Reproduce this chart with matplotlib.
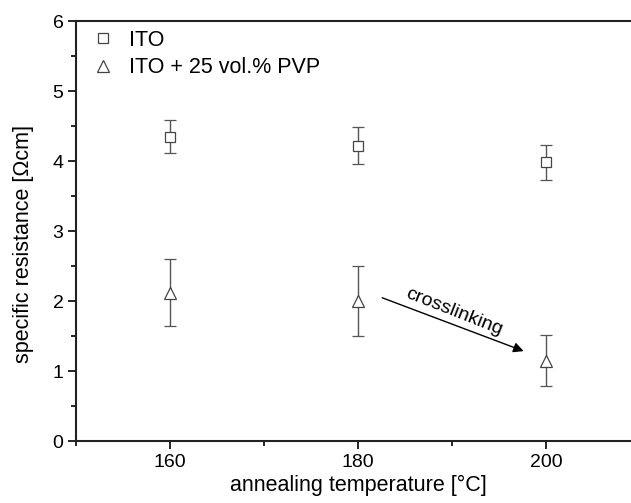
import matplotlib
matplotlib.use("Agg")
import matplotlib.pyplot as plt
from matplotlib.ticker import MultipleLocator

plt.rcParams['font.family'] = ['Liberation Sans', 'DejaVu Sans']

temps = [160, 180, 200]
ito = [4.35, 4.22, 3.98]
ito_err = [0.24, 0.26, 0.245]
pvp = [2.12, 2.00, 1.15]
pvp_err = [0.475, 0.50, 0.36]
labels = ["ITO", "ITO + 25 vol.% PVP"]

fig = plt.figure(figsize=(6.31, 5.03), dpi=100)
ax = fig.add_axes([76 / 631, 62 / 503, 564 / 631, 420 / 503])

ec = '#555555'
ax.errorbar(temps, ito, yerr=ito_err, fmt='s', ms=6.5, mfc='white', mec='#444444',
            mew=0.9, ecolor=ec, elinewidth=1.0, capsize=4, capthick=1.0, label=labels[0], zorder=3)
ax.errorbar(temps, pvp, yerr=pvp_err, fmt='^', ms=8.5, mfc='white', mec='#444444',
            mew=0.9, ecolor=ec, elinewidth=1.0, capsize=4, capthick=1.0, label=labels[1], zorder=3)

ax.annotate('', xy=(197.9, 1.27), xytext=(182.3, 2.06),
            arrowprops=dict(arrowstyle='-|>', color='black', lw=1.0, mutation_scale=15))
ax.text(190.2, 1.84, 'crosslinking', rotation=-21.5, fontsize=14, ha='center', va='center',
        rotation_mode='anchor')

ax.set_xlim(150, 210)
ax.set_ylim(0, 6)
ax.set_xticks(temps)
ax.xaxis.set_minor_locator(MultipleLocator(10))
ax.yaxis.set_major_locator(MultipleLocator(1))
ax.yaxis.set_minor_locator(MultipleLocator(0.5))
ax.tick_params(which='major', direction='out', length=6, width=1.2, labelsize=14)
ax.tick_params(which='minor', direction='out', length=3.5, width=1.2)
ax.tick_params(axis='y', pad=3)
ax.spines['right'].set_visible(False)
for s in ['left', 'bottom', 'top']:
    ax.spines[s].set_linewidth(1.5)
    ax.spines[s].set_color('#222222')

ax.set_xlabel('annealing temperature [°C]', fontsize=15.5, labelpad=3)
ax.set_ylabel('specific resistance [Ωcm]', fontsize=15.5)
ax.yaxis.set_label_coords(-0.075, 0.47)

h, l = ax.get_legend_handles_labels()
h = [hh[0] for hh in h]
ax.legend(h, l, loc='upper left', frameon=False, fontsize=15.5, handletextpad=0.6,
          handlelength=1.2, borderaxespad=0.0, labelspacing=0.3, bbox_to_anchor=(0.0095, 1.0))

fig.savefig('out.png', dpi=100)
